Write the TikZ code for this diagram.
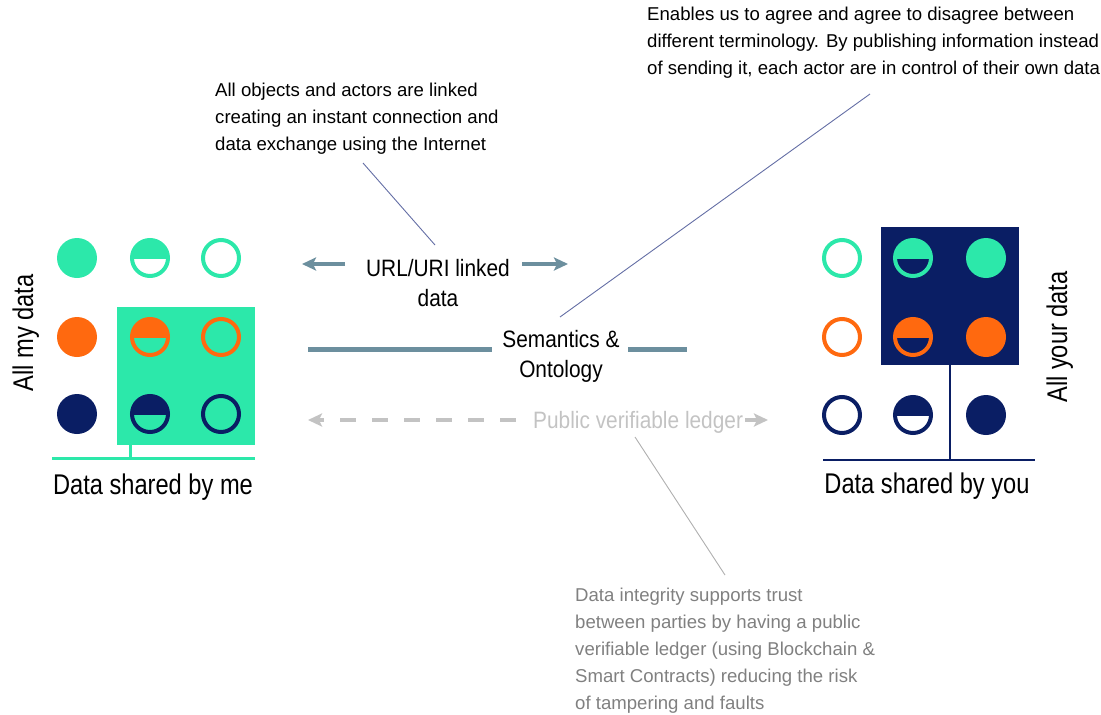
\documentclass[tikz,border=0pt]{standalone}
\usepackage{fontspec}
\setmainfont{Liberation Sans}
\newfontfamily\narrowfont[FakeStretch=0.83]{Liberation Sans}
\newfontfamily\midfont[FakeStretch=0.88]{Liberation Sans}
\usetikzlibrary{arrows.meta}

\definecolor{mint}{RGB}{44,232,170}
\definecolor{tangerine}{RGB}{255,105,15}
\definecolor{navy}{RGB}{10,30,100}
\definecolor{slate}{RGB}{108,143,158}
\definecolor{ledgergray}{RGB}{195,195,195}
\definecolor{notegray}{RGB}{128,128,128}
\definecolor{pointer}{RGB}{100,110,165}

\tikzset{
  headtip/.tip={Stealth[length=14pt, width=13pt, inset=3pt]},
  fulldot/.style={circle, fill=#1, draw=none, minimum size=40pt, inner sep=0pt, outer sep=0pt},
  ringdot/.style={circle, draw=#1, line width=4pt, minimum size=36pt, inner sep=0pt, outer sep=0pt},
  note/.style={font=\fontsize{18.6pt}{27pt}\selectfont, align=left, inner sep=0pt, text=black},
  biglabel/.style={font=\narrowfont\fontsize{28.5pt}{34pt}\selectfont, inner sep=0pt, text=black},
  midlabel/.style={font=\midfont\fontsize{23.7pt}{30pt}\selectfont, align=center, inner sep=0pt, text=black},
  linkarrow/.style={slate, line width=4pt, -headtip},
  semline/.style={slate, line width=5pt},
  ledgerline/.style={ledgergray, line width=4pt},
  pointerline/.style={pointer, line width=0.9pt},
  pointergray/.style={ledgergray!90!black, line width=0.9pt},
  sharebox/.style={minimum width=138pt, minimum height=138pt, inner sep=0pt, outer sep=0pt, draw=none},
}

% half-filled disc: outline ring with the upper half filled
\newcommand\halfdisc[3]{%
  \node[ringdot=#2] (#1) at (#3) {};
  \begin{scope}
    \clip (#1.west |- #1.north) rectangle (#1.east);
    \fill[#2] (#1.center) circle[radius=18pt];
  \end{scope}}

\begin{document}
\begin{tikzpicture}[x=1pt, y=-1pt]
\useasboundingbox (0,0) rectangle (1101,715);

% ---------- left side: my data ----------
\node[sharebox, fill=mint] (shareMine) at (186,376) {};
\node[fulldot=mint] (m11) at (77,258) {};
\halfdisc{m12}{mint}{150,258}
\node[ringdot=mint] (m13) at (221,258) {};
\node[fulldot=tangerine] (m21) at (77,337) {};
\halfdisc{m22}{tangerine}{150,337}
\node[ringdot=tangerine] (m23) at (221,337) {};
\node[fulldot=navy] (m31) at (77,414) {};
\halfdisc{m32}{navy}{150,414}
\node[ringdot=navy] (m33) at (221,414) {};

\coordinate (mineBarL) at (52,458);
\coordinate (mineBarR) at (255,458);
\coordinate (mineTickTop) at (130,445);
\coordinate (mineTickBot) at (130,458);
\draw[mint, line width=3pt] (mineBarL) -- (mineBarR);
\draw[mint, line width=3pt] (mineTickTop) -- (mineTickBot);

\node[biglabel, anchor=base] (sharedMe) at (153,494) {Data shared by me};
\node[biglabel, rotate=90, anchor=base] (allMine) at (33,333) {All my data};

% ---------- right side: your data ----------
\node[sharebox, fill=navy] (shareYours) at (950,296) {};
\node[ringdot=mint] (y11) at (842,258) {};
\halfdisc{y12}{mint}{913,258}
\node[fulldot=mint] (y13) at (986,258) {};
\node[ringdot=tangerine] (y21) at (842,337) {};
\halfdisc{y22}{tangerine}{913,337}
\node[fulldot=tangerine] (y23) at (986,337) {};
\node[ringdot=navy] (y31) at (842,415) {};
\halfdisc{y32}{navy}{913,415}
\node[fulldot=navy] (y33) at (986,415) {};

\coordinate (yoursBarL) at (823,460);
\coordinate (yoursBarR) at (1035,460);
\coordinate (yoursTickBot) at (950,460);
\draw[navy, line width=2.5pt] (yoursBarL) -- (yoursBarR);
\draw[navy, line width=2.5pt] (shareYours.south) -- (yoursTickBot);

\node[biglabel, anchor=base] (sharedYou) at (927,493) {Data shared by you};
\node[biglabel, rotate=90, anchor=base] (allYours) at (1067,337) {All your data};

% ---------- middle: the three layers ----------
\node[midlabel, anchor=north] (url) at (438,259) {URL/URI linked\\data};
\coordinate (urlLeftStart) at (345,264);
\coordinate (urlLeftTip) at (302,264);
\coordinate (urlRightStart) at (522,264);
\coordinate (urlRightTip) at (568,264);
\draw[linkarrow] (urlLeftStart) -- (urlLeftTip);
\draw[linkarrow] (urlRightStart) -- (urlRightTip);

\node[midlabel, anchor=north] (sem) at (561,330) {Semantics \&\\Ontology};
\coordinate (semLa) at (308,349);
\coordinate (semLb) at (492,349);
\coordinate (semRa) at (628,349);
\coordinate (semRb) at (687,349);
\draw[semline] (semLa) -- (semLb);
\draw[semline] (semRa) -- (semRb);

\node[midlabel, text=ledgergray, anchor=base west] (ledger) at (533,428) {Public verifiable ledger};
\coordinate (ledgerTipL) at (308,420);
\coordinate (ledgerEndL) at (522,420);
\coordinate (ledgerStartR) at (745,420);
\coordinate (ledgerTipR) at (768,420);
\draw[ledgerline, dash pattern=on 16pt off 16pt, dash phase=10pt, headtip-] (ledgerTipL) -- (ledgerEndL);
\draw[ledgerline, -headtip] (ledgerStartR) -- (ledgerTipR);

% ---------- notes and their pointers ----------
\node[note, anchor=north west] (noteLink) at (215,83)
  {All objects and actors are linked\\creating an instant connection and\\data exchange using the Internet};
\coordinate (noteLinkFoot) at (363,163);
\coordinate (noteLinkHead) at (435,245);
\draw[pointerline] (noteLinkFoot) -- (noteLinkHead);

\node[note, anchor=north west] (noteSem) at (647,7)
  {Enables us to agree and agree to disagree between\\different terminology. By publishing information instead\\of sending it, each actor are in control of their own data};
\coordinate (noteSemFoot) at (870,94);
\coordinate (noteSemHead) at (560,317);
\draw[pointerline] (noteSemFoot) -- (noteSemHead);

\node[note, text=notegray, anchor=north west] (noteLedger) at (575,588)
  {Data integrity supports trust\\between parties by having a public\\verifiable ledger (using Blockchain \&\\Smart Contracts) reducing the risk\\of tampering and faults};
\coordinate (noteLedgerFoot) at (725,575);
\coordinate (noteLedgerHead) at (635,437);
\draw[pointergray] (noteLedgerFoot) -- (noteLedgerHead);

\end{tikzpicture}
\end{document}
